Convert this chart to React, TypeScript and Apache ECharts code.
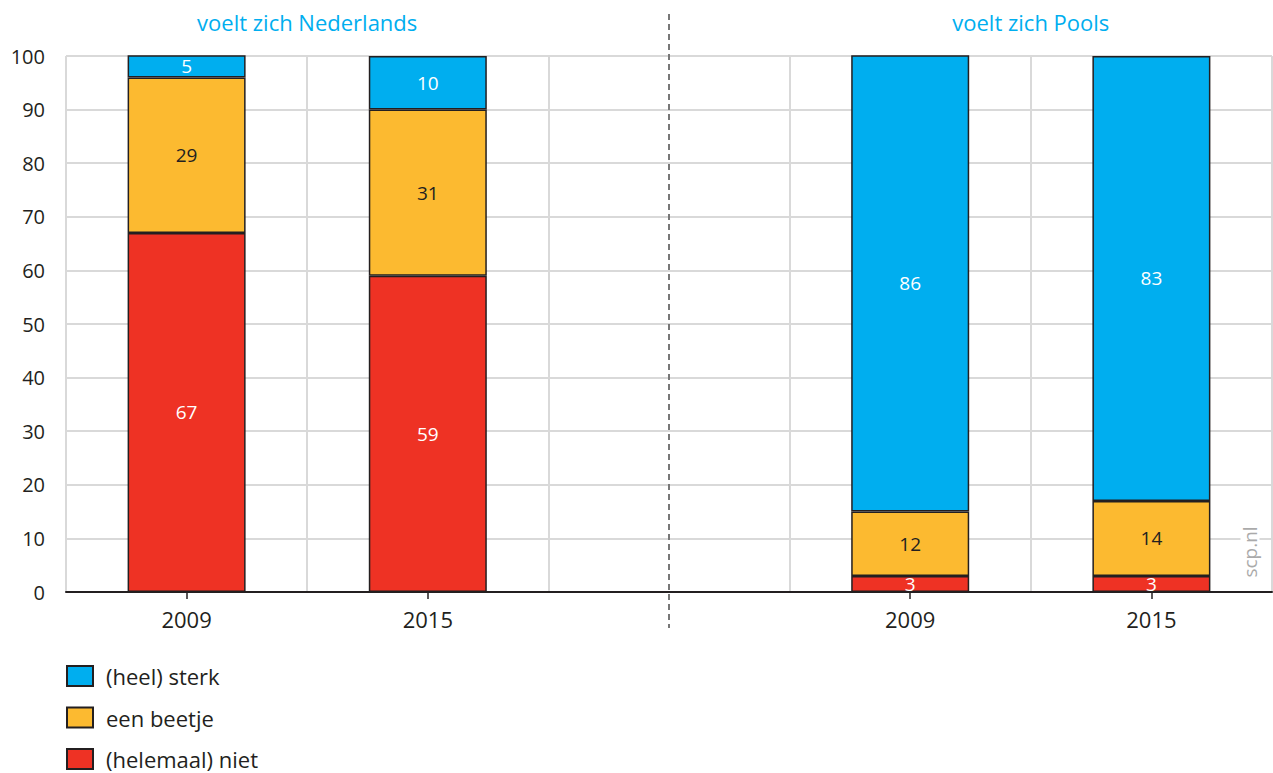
import React, { useEffect, useRef } from "react";
import * as echarts from "echarts";

const categories = ["2009", "2015", "", "2009", "2015"];
const niet = [67, 59, null, 3, 3];
const beetje = [29, 31, null, 12, 14];
const sterk = [5, 10, null, 86, 83];
const seriesNames = ["(heel) sterk", "een beetje", "(helemaal) niet"];
const groupTitles = ["voelt zich Nederlands", "voelt zich Pools"];
const yTicks = { min: 0, max: 100, interval: 10 };

const BLUE = "#00AEEF";
const YELLOW = "#FCBA30";
const RED = "#EE3224";
const DARK = "#231F20";
const FONT = "'Open Sans', 'Noto Sans', sans-serif";

export default function App() {
  const ref = useRef<HTMLDivElement>(null);
  useEffect(() => {
    document.body.style.margin = "0";
    const chart = echarts.init(ref.current!, null, { renderer: "svg" });
    const barBase = {
      type: "bar",
      stack: "total",
      barWidth: 118,
      itemStyle: { borderColor: DARK, borderWidth: 1.5 },
      label: {
        show: true,
        position: "inside",
        fontSize: 19,
        fontFamily: FONT,
      },
    };
    const legends = seriesNames.map((name, i) => ({
      orient: "vertical",
      left: 66,
      top: 665 + i * 41.5,
      padding: 0,
      itemWidth: 26,
      itemHeight: 20,
      icon: "rect",
      data: [name],
      textStyle: { fontSize: 22, lineHeight: 22, color: DARK, padding: [0, 0, 0, 8], fontFamily: FONT },
      selectedMode: false,
    }));
    chart.setOption({
      animation: false,
      textStyle: { fontFamily: FONT },
      grid: { left: 66, right: 1, top: 56, bottom: 181, containLabel: false },
      legend: legends,
      xAxis: {
        type: "category",
        data: categories,
        axisLine: { show: true, lineStyle: { color: DARK, width: 2 } },
        axisTick: {
          show: true,
          alignWithLabel: true,
          length: 7,
          interval: (i: number, v: string) => v !== "",
          lineStyle: { color: DARK, width: 1.5 },
        },
        axisLabel: { fontSize: 22, color: DARK, margin: 16, interval: 0, fontFamily: FONT },
        splitLine: { show: true, interval: 0, lineStyle: { color: "#D9D9D9", width: 2 } },
      },
      yAxis: {
        type: "value",
        min: yTicks.min,
        max: yTicks.max,
        interval: yTicks.interval,
        axisLine: { show: false },
        axisTick: { show: false },
        axisLabel: { fontSize: 20, color: DARK, margin: 21, fontFamily: FONT },
        splitLine: { lineStyle: { color: "#D9D9D9", width: 2 } },
      },
      series: [
        {
          ...barBase,
          name: seriesNames[2],
          data: niet,
          itemStyle: { ...barBase.itemStyle, color: RED },
          label: { ...barBase.label, color: "#FFFFFF" },
        },
        {
          ...barBase,
          name: seriesNames[1],
          data: beetje,
          itemStyle: { ...barBase.itemStyle, color: YELLOW },
          label: { ...barBase.label, color: DARK },
        },
        {
          ...barBase,
          name: seriesNames[0],
          data: sterk,
          itemStyle: { ...barBase.itemStyle, color: BLUE },
          label: { ...barBase.label, color: "#FFFFFF" },
        },
      ],
    });

    const px = (i: number) => chart.convertToPixel({ xAxisIndex: 0 }, i) as number;
    const sepX = px(2);
    const t1 = (px(0) + px(1)) / 2;
    const t2 = (px(3) + px(4)) / 2;
    const yTop = chart.convertToPixel({ yAxisIndex: 0 }, 100) as number;
    const yBot = chart.convertToPixel({ yAxisIndex: 0 }, 0) as number;
    chart.setOption({
      graphic: [
        {
          type: "line",
          shape: { x1: sepX, y1: yTop - 42, x2: sepX, y2: yBot + 36 },
          style: { stroke: "#777777", lineWidth: 2, lineDash: [6, 4] },
        },
        {
          type: "text",
          x: t1,
          y: 22,
          style: { text: groupTitles[0], fill: BLUE, fontSize: 22, fontFamily: FONT, align: "center", verticalAlign: "middle" },
        },
        {
          type: "text",
          x: t2,
          y: 22,
          style: { text: groupTitles[1], fill: BLUE, fontSize: 22, fontFamily: FONT, align: "center", verticalAlign: "middle" },
        },
        {
          type: "text",
          x: 1250,
          y: 552,
          rotation: Math.PI / 2,
          style: { text: "scp.nl", fill: "#AAAAAA", fontSize: 19, fontFamily: FONT, align: "center", verticalAlign: "middle", backgroundColor: "#FFFFFF" },
        },
      ],
    });
    return () => chart.dispose();
  }, []);
  return <div ref={ref} style={{ width: 1273, height: 773 }} />;
}
